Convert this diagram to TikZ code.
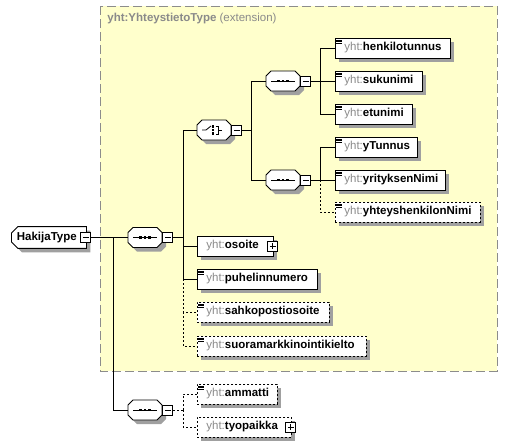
\documentclass[tikz,border=0pt]{standalone}
\usepackage{fontspec}
\setmainfont{Liberation Sans}
\usetikzlibrary{positioning, shapes.misc}
\definecolor{extyellow}{HTML}{FFFFCC}
\definecolor{extborder}{HTML}{8C8C8C}
\definecolor{pfxgray}{HTML}{8A8A8A}
\definecolor{shadowgray}{HTML}{A0A0A0}
\newcommand{\ename}[2]{\makebox[#1pt][l]{\hspace{9pt}{\color{pfxgray}\mdseries yht:}#2}}

\begin{document}
\begin{tikzpicture}[x=1pt, y=-1pt, line width=0.8pt,
    font=\fontsize{11.5}{13}\selectfont\bfseries,
    shadowed/.style={preaction={fill=shadowgray, draw=none, transform canvas={xshift=4pt, yshift=-4pt}}},
    elem/.style={draw, fill=white, rectangle, minimum height=20pt, inner sep=0pt, anchor=west, shadowed},
    optelem/.style={elem, dash pattern=on 2pt off 2pt},
    simple/.style={path picture={\foreach \k in {1.8,3.6,5.4} \draw[solid, line width=0.6pt] ([xshift=1pt, yshift=-\k pt]path picture bounding box.north west) -- ++(6pt,0pt);}},
    seq/.style={rectangle, minimum width=34pt, minimum height=20pt, inner sep=0pt},
    octagon/.style={draw, fill=white, shadowed},
    minusbox/.style={draw, solid, fill=white, minimum size=10pt, inner sep=0pt, path picture={\draw[solid] ([xshift=2pt]path picture bounding box.west) -- ([xshift=-2pt]path picture bounding box.east);}},
    plusbox/.style={minusbox, path picture={\draw[solid] ([xshift=2pt]path picture bounding box.west) -- ([xshift=-2pt]path picture bounding box.east); \draw[solid] ([yshift=-2pt]path picture bounding box.north) -- ([yshift=2pt]path picture bounding box.south);}},
    optline/.style={dash pattern=on 2pt off 2pt}]
    \useasboundingbox (0,0) rectangle (508,447);

    \draw[extborder, fill=extyellow, dash pattern=on 9pt off 4pt] (100,6) rectangle (497,371);
    \node[anchor=west, inner sep=0pt, text=pfxgray] (ext) at (107,19) {yht:YhteystietoType \mdseries(extension)};

    \node[chamfered rectangle, chamfered rectangle corners={north west,south west}, chamfered rectangle xsep=3pt,
          draw, fill=white, minimum width=75pt, minimum height=20pt, inner sep=2pt, anchor=west, shadowed]
          (hak) at (11,237.5) {\makebox[64pt][l]{HakijaType}};
    \node[minusbox] (mHak) at ([xshift=-1pt]hak.east) {};

    \node[seq] (sMain) at (145,237.5) {};
    \node[seq] (ch) at (214,130) {};
    \node[seq] (sA) at (283,81) {};
    \node[seq] (sB) at (283,180) {};
    \node[seq] (sC) at (145,410) {};

    \node[elem, simple] (henk) at (335,48) {\ename{115}{henkilotunnus}};
    \node[elem, simple] (suku) at (335,81) {\ename{87}{sukunimi}};
    \node[elem, simple] (etu) at (335,114) {\ename{77}{etunimi}};
    \node[elem, simple] (ytun) at (335,147) {\ename{82}{yTunnus}};
    \node[elem, simple] (yrit) at (335,180) {\ename{110}{yrityksenNimi}};
    \node[optelem, simple] (yhte) at (335,212) {\ename{145}{yhteyshenkilonNimi}};

    \node[elem] (oso) at (197,246) {\ename{76}{osoite}};
    \node[plusbox] (pOso) at ([xshift=-1pt]oso.east) {};
    \node[elem, simple] (puh) at (197,279) {\ename{120}{puhelinnumero}};
    \node[optelem, simple] (sahk) at (197,312) {\ename{132}{sahkopostiosoite}};
    \node[optelem, simple] (suor) at (197,346) {\ename{169}{suoramarkkinointikielto}};
    \node[optelem, simple] (amm) at (197,394) {\ename{80}{ammatti}};
    \node[optelem] (tyo) at (197,427) {\ename{94}{tyopaikka}};
    \node[plusbox] (pTyo) at ([xshift=-1pt]tyo.east) {};

    \foreach \s in {sMain,ch,sA,sB,sC}
        \draw[octagon, shift={(\s.center)}]
            (-12pt,10pt) -- (12pt,10pt) -- (17pt,5pt) -- (17pt,-5pt) -- (12pt,-10pt) -- (-12pt,-10pt) -- (-17pt,-5pt) -- (-17pt,5pt) -- cycle;
    \node[minusbox, right=0pt of sMain] (mMain) {};
    \node[minusbox, right=0pt of ch] (mCh) {};
    \node[minusbox, right=0pt of sA] (mA) {};
    \node[minusbox, right=0pt of sB] (mB) {};
    \node[minusbox, right=0pt of sC] (mC) {};

    \foreach \s in {sMain,sA,sB,sC} {
        \draw ([xshift=-12pt]\s.center) -- ([xshift=12pt]\s.center);
        \foreach \d in {-4.5,0,4.5}
            \fill ([xshift=\d pt]\s.center) +(-1.3pt,-1.3pt) rectangle +(1.3pt,1.3pt);
    }
    \draw ([xshift=-12pt]ch.center) -- ++(4pt,0pt) -- ++(5pt,4pt);
    \foreach \d in {3.5,0,-3.5}
        \fill ([xshift=-1pt,yshift=\d pt]ch.center) +(-1.3pt,-1.3pt) rectangle +(1.3pt,1.3pt);
    \draw ([xshift=1.5pt,yshift=4pt]ch.center) -- ++(2.5pt,0pt) -- ++(0pt,-8pt) -- ++(-2.5pt,0pt);
    \draw ([xshift=4pt]ch.center) -- ++(4pt,0pt);

    \coordinate (jH) at (113,237.5);
    \coordinate (jM) at (183,237.5);
    \coordinate (jCh) at (251,130);
    \coordinate (jA) at (320,81);
    \coordinate (jB) at (320,180);
    \coordinate (jC) at (183,410);

    \draw (mHak.east) -- (sMain.west);
    \draw (jH) |- (sC.west);
    \draw (mMain.east) -- (jM);
    \draw (jM) |- (ch.west);
    \draw (jM) |- (oso.west);
    \draw (jM) |- (puh.west);
    \draw[optline] (jM |- puh.west) |- (sahk.west);
    \draw[optline] (jM |- sahk.west) |- (suor.west);
    \draw (mCh.east) -- (jCh);
    \draw (jCh) |- (sA.west);
    \draw (jCh) |- (sB.west);
    \draw (mA.east) -- (jA);
    \draw (jA) |- (henk.west);
    \draw (jA) |- (suku.west);
    \draw (jA) |- (etu.west);
    \draw (mB.east) -- (jB);
    \draw (jB) |- (ytun.west);
    \draw (jB) |- (yrit.west);
    \draw[optline] (jB) |- (yhte.west);
    \draw[optline] (mC.east) -- (jC);
    \draw[optline] (jC) |- (amm.west);
    \draw[optline] (jC) |- (tyo.west);
\end{tikzpicture}
\end{document}
